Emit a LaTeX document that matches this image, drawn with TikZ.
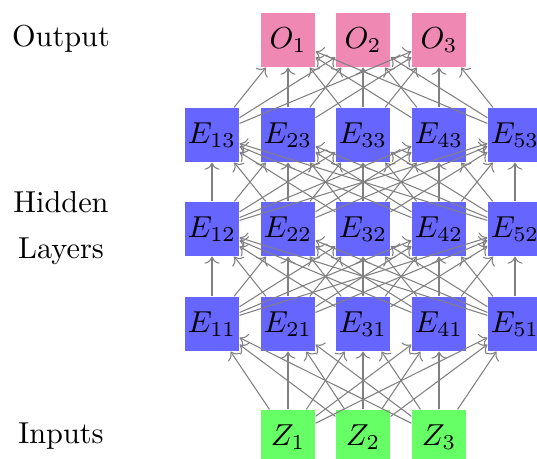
\documentclass[tikz,border=0pt]{standalone}
\usepackage{tikz}
\usetikzlibrary{arrows.meta}
\definecolor{outpink}{RGB}{240,136,180}
\definecolor{hidblue}{RGB}{102,102,255}
\definecolor{inpgreen}{RGB}{102,255,102}
\definecolor{wire}{RGB}{128,128,128}
\tikzset{
  unit/.style={rectangle,minimum size=17.8pt,inner sep=0pt},
  hid/.style={unit,fill=hidblue},
  inp/.style={unit,fill=inpgreen},
  outp/.style={unit,fill=outpink},
  arr/.style={->,draw=wire,line width=0.35pt},
  lbl/.style={align=center},
}

\begin{document}
\begin{tikzpicture}[x=0.33pt,y=-0.33pt]
\useasboundingbox (0,0) rectangle (537,459);
% layer labels
\node[lbl] (lout) at (61,39) {Output};
\node[lbl] (lhid) at (61,228) {Hidden\\[3.2pt]Layers};
\node[lbl] (linp) at (61,436) {Inputs};
% inputs and outputs
\foreach \i/\x in {1/288,2/363,3/439} {
  \node[inp] (z\i) at (\x,437) {$Z_{\i}$};
  \node[outp] (o\i) at (\x,40) {$O_{\i}$};
}
% hidden layers, column i, layer l
\foreach \i/\x in {1/212,2/288,3/363,4/439,5/515}
  \foreach \l/\y in {1/324,2/229,3/135}
    \node[hid] (e\i\l) at (\x,\y) {$E_{\i\l}$};
% fully connected between neighbouring layers
\foreach \i in {1,2,3} \foreach \j in {1,...,5}
  \draw[arr] (z\i) -- (e\j1);
\foreach \i in {1,...,5} \foreach \j in {1,...,5} {
  \draw[arr] (e\i1) -- (e\j2);
  \draw[arr] (e\i2) -- (e\j3);
}
\foreach \i in {1,...,5} \foreach \j in {1,2,3}
  \draw[arr] (e\i3) -- (o\j);
\end{tikzpicture}
\end{document}
